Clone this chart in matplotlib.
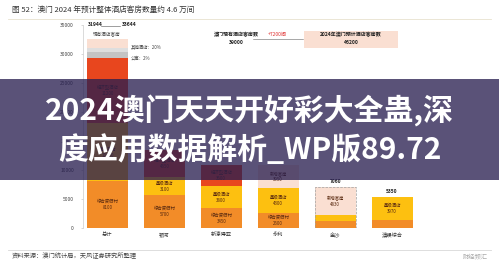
import matplotlib
matplotlib.use("Agg")
import matplotlib.pyplot as plt
from matplotlib.patches import Rectangle
from matplotlib.lines import Line2D
import numpy as np

plt.rcParams['font.family'] = ['Noto Sans CJK SC', 'DejaVu Sans']

# ---------------- data ----------------
categories = ["总计", "银河", "新濠博亚", "永利", "金沙", "澳娱综合"]
series_names = ["综合度假村", "星级酒店", "经济型酒店", "公寓式酒店", "其他", "新增客房"]
orange    = [8100, 5700, 3450, 2600, 1200, 1380]
yellow    = [10000, 3100, 3800, 4300, 1030, 3970]
red       = [11200, 4650, 3600, 0, 0, 0]
grey      = [1000, 0, 0, 0, 0, 0]
lightgrey = [700, 0, 0, 0, 0, 0]
peach     = [1550, 0, 0, 3950, 4830, 0]
yticks = [0, 5000, 10000, 15000, 20000, 25000, 30000, 35000]
colors = ["#f28c28", "#fdc010", "#e8461e", "#c4c4c4", "#dedede", "#fadfd2"]

W, H = 499, 263
def fx(x): return x / W
def fy(y): return 1 - y / H

fig = plt.figure(figsize=(W / 100, H / 100), dpi=100)
fig.patch.set_facecolor("white")

# axes: x from 83 to 420 px, y from 228 (0) to 25 (35000)
ax = fig.add_axes([fx(83), fy(228), (420 - 83) / W, (228 - 25) / H])
x = np.arange(len(categories))
series = [orange, yellow, red, grey, lightgrey, peach]
bottom = np.zeros(len(categories))
for vals, col, name in zip(series, colors, series_names):
    vals = np.array(vals, dtype=float)
    ax.bar(x, vals, bottom=bottom, width=0.72, color=col, edgecolor="none")
    for i, v in enumerate(vals):
        if v >= 2500:
            ax.text(x[i], bottom[i] + v / 2, f"{name}\n{int(v)}", ha="center", va="center",
                    fontsize=3.2, color="#5a2a10", linespacing=1.3)
    bottom += vals

# dashed outline for planned bar (金沙)
ax.bar(x[4], bottom[4], width=0.72, fill=False, edgecolor="#a0a0a0", linestyle="--", linewidth=0.5)
for i in (4, 5):
    ax.text(x[i], bottom[i] + 500, f"{int(bottom[i])}", ha="center", va="bottom",
            fontsize=3.5, color="#222", fontweight="bold")

ax.set_xlim(-0.43, 5.49)
ax.set_ylim(0, 35000)
ax.set_yticks(yticks)
ax.set_yticklabels([str(v) for v in yticks], fontsize=3.6, color="#444")
ax.set_xticks(x)
ax.set_xticklabels(categories, fontsize=3.8, color="#333")
ax.tick_params(axis="y", length=1.5, width=0.4, color="#bbbbbb", pad=5)
ax.tick_params(axis="x", length=0, pad=3)
for s in ("top", "right", "bottom"):
    ax.spines[s].set_visible(False)
ax.spines["left"].set_color("#cccccc")
ax.spines["left"].set_linewidth(0.5)
ax.patch.set_alpha(0)

# annotations near bar 1
fig.text(fx(88), fy(25), "31944", fontsize=3.6, fontweight="bold", color="#222", va="center")
fig.add_artist(Line2D([fx(101), fx(120)], [fy(26), fy(26)], color="#555", lw=0.4))
fig.text(fx(122), fy(25), "33644", fontsize=3.6, fontweight="bold", color="#222", va="center")
fig.text(fx(107), fy(34), "现有酒店客房", fontsize=3.3, color="#444", ha="center", va="center")
fig.text(fx(131), fy(47), "其他酒店：20%", fontsize=3.2, color="#444", va="center")
fig.text(fx(131), fy(58), "公寓：2%", fontsize=3.2, color="#444", va="center")

# top-right boxes
fig.text(fx(236), fy(35), "澳门现有酒店客房数", fontsize=3.6, fontweight="bold", color="#222", ha="center", va="center")
fig.text(fx(236), fy(43), "39000", fontsize=3.6, fontweight="bold", color="#222", ha="center", va="center")
fig.add_artist(Line2D([fx(253), fx(303)], [fy(39), fy(39)], color="#666", lw=0.4))
fig.text(fx(277), fy(34), "+7200间", fontsize=3.6, color="#e03030", ha="center", va="center")
fig.add_artist(Rectangle((fx(304), fy(48)), 94 / W, 17 / H, transform=fig.transFigure,
                         facecolor="#fadfd2", edgecolor="none"))
fig.text(fx(351), fy(35), "2024年澳门预计酒店客房数", fontsize=3.6, fontweight="bold", color="#222", ha="center", va="center")
fig.text(fx(351), fy(43), "46200", fontsize=3.6, fontweight="bold", color="#222", ha="center", va="center")

# title and source
fig.text(fx(12), fy(10), "图 52：澳门 2024 年预计整体酒店客房数量约 4.6 万间", fontsize=5.5, color="#333", va="center")
fig.add_artist(Line2D([fx(8), fx(491)], [fy(19), fy(19)], color="#e8e2cf", lw=0.6))
fig.add_artist(Line2D([fx(8), fx(491)], [fy(250), fy(250)], color="#d8d8d8", lw=0.6))
fig.text(fx(12), fy(256), "资料来源：澳门统计局，天风证券研究所整理", fontsize=4.5, color="#444", va="center")
fig.text(fx(488), fy(256), "财经频汇", fontsize=4.5, color="#aaaaaa", va="center", ha="right")

# overlay band with headline text
fig.add_artist(Rectangle((0, fy(180)), 1, 101 / H, transform=fig.transFigure,
                         facecolor="#281e50", alpha=0.77, edgecolor="none", zorder=10))
fig.text(0.5, fy(111), "2024澳门天天开好彩大全蛊,深", fontsize=21.5, fontweight="black",
         color="white", ha="center", va="center", zorder=11)
fig.text(0.5, fy(150), "度应用数据解析_WP版89.72", fontsize=21.5, fontweight="black",
         color="white", ha="center", va="center", zorder=11)

fig.savefig("out.png", dpi=100)
